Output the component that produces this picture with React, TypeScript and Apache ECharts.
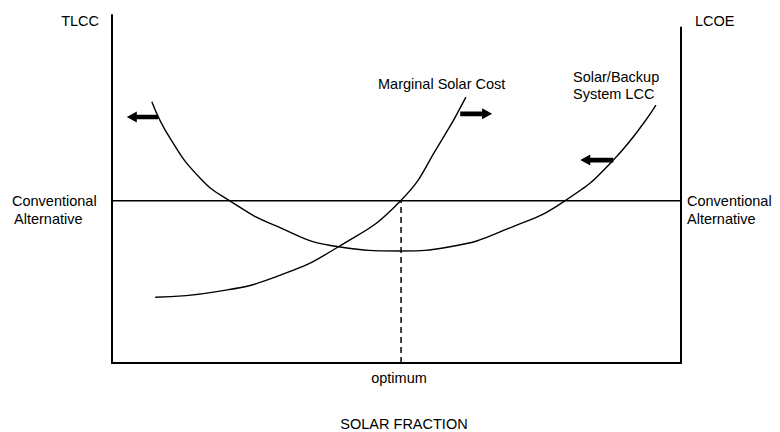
import React, { useEffect, useRef } from "react";
import * as echarts from "echarts";

// Solar/Backup System LCC curve (x = solar fraction %, y = relative cost)
const lccCurve: [number, number][] = [
  [7.0, 75.1], [10.2, 64.6], [15.5, 53.1], [20.7, 46.6], [28.4, 39.7], [39.8, 33.4],
  [50.6, 32.2], [59.4, 33.4], [70.5, 39.2], [79.6, 46.6], [88.1, 58.3], [95.6, 74.1],
];

// Marginal Solar Cost curve
const marginalCurve: [number, number][] = [
  [7.6, 18.9], [18.4, 20.5], [28.9, 24.8], [39.8, 33.4], [50.6, 46.4], [57.6, 63.1],
  [62.2, 76.4],
];

// Conventional alternative level and optimum solar fraction
const conventionalLevel = 46.6;
const optimumFraction = 50.8;
const rightAxisTop = 96.6;

// Arrows: [xStart, xEnd, y, direction(-1 left / 1 right)]
const arrows: [number, number, number, number][] = [
  [2.6, 8.1, 70.7, -1],
  [61.2, 66.8, 71.6, 1],
  [82.3, 88.1, 58.3, -1],
];

const FONT = "'Liberation Sans', Arial, sans-serif";

export default function App() {
  const ref = useRef<HTMLDivElement>(null);
  useEffect(() => {
    if (!ref.current) return;
    const chart = echarts.init(ref.current, undefined, { renderer: "svg" });
    const txt = (text: string, x: number, y: number, align: string = "left") => ({
      type: "text",
      x,
      y,
      style: {
        text,
        fill: "#000",
        font: `14.5px ${FONT}`,
        align,
        verticalAlign: "middle",
      },
    });
    chart.setOption({
      animation: false,
      backgroundColor: "#fff",
      grid: { left: 112, right: 99, top: 15, bottom: 69 },
      xAxis: {
        type: "value",
        min: 0,
        max: 100,
        axisLine: { show: true, lineStyle: { color: "#000", width: 2 } },
        axisTick: { show: false },
        axisLabel: { show: false },
        splitLine: { show: false },
      },
      yAxis: {
        type: "value",
        min: 0,
        max: 100,
        axisLine: { show: true, lineStyle: { color: "#000", width: 2 } },
        axisTick: { show: false },
        axisLabel: { show: false },
        splitLine: { show: false },
      },
      series: [
        {
          type: "line",
          data: [[100, 0], [100, rightAxisTop]],
          symbol: "none",
          lineStyle: { color: "#000", width: 2 },
          clip: false,
        },
        {
          type: "line",
          data: [[0, conventionalLevel], [100, conventionalLevel]],
          symbol: "none",
          lineStyle: { color: "#000", width: 1.5 },
        },
        {
          type: "line",
          data: [[optimumFraction, 0], [optimumFraction, conventionalLevel]],
          symbol: "none",
          lineStyle: { color: "#000", width: 1.5, type: [6, 4] },
        },
        {
          type: "line",
          name: "Solar/Backup System LCC",
          data: lccCurve,
          symbol: "none",
          smooth: 0.5,
          lineStyle: { color: "#000", width: 1.4 },
        },
        {
          type: "line",
          name: "Marginal Solar Cost",
          data: marginalCurve,
          symbol: "none",
          smooth: 0.5,
          lineStyle: { color: "#000", width: 1.4 },
        },
        {
          type: "custom",
          data: arrows,
          renderItem: (params: any, api: any) => {
            const p1 = api.coord([api.value(0), api.value(2)]);
            const p2 = api.coord([api.value(1), api.value(2)]);
            const dir = api.value(3);
            const y = p1[1];
            const hh = 5.5, sh = 2.3, hl = 10;
            let pts: number[][];
            if (dir < 0) {
              const t = p1[0], e = p2[0];
              pts = [[t, y], [t + hl, y - hh], [t + hl, y - sh], [e, y - sh], [e, y + sh], [t + hl, y + sh], [t + hl, y + hh]];
            } else {
              const t = p2[0], s = p1[0];
              pts = [[t, y], [t - hl, y - hh], [t - hl, y - sh], [s, y - sh], [s, y + sh], [t - hl, y + sh], [t - hl, y + hh]];
            }
            return { type: "polygon", shape: { points: pts }, style: { fill: "#000" } };
          },
        },
      ],
      graphic: [
        txt("TLCC", 99, 21, "right"),
        txt("LCOE", 695, 21),
        txt("Marginal Solar Cost", 378, 84),
        txt("Solar/Backup", 573, 77),
        txt("System LCC", 573, 94),
        txt("Conventional", 12, 201),
        txt("Alternative", 14, 219),
        txt("Conventional", 687, 201),
        txt("Alternative", 687, 219),
        txt("optimum", 399, 378, "center"),
        txt("SOLAR FRACTION", 404, 424, "center"),
      ],
    });
    return () => chart.dispose();
  }, []);
  return <div ref={ref} style={{ width: 780, height: 432, position: "absolute", left: 0, top: 0 }} />;
}
